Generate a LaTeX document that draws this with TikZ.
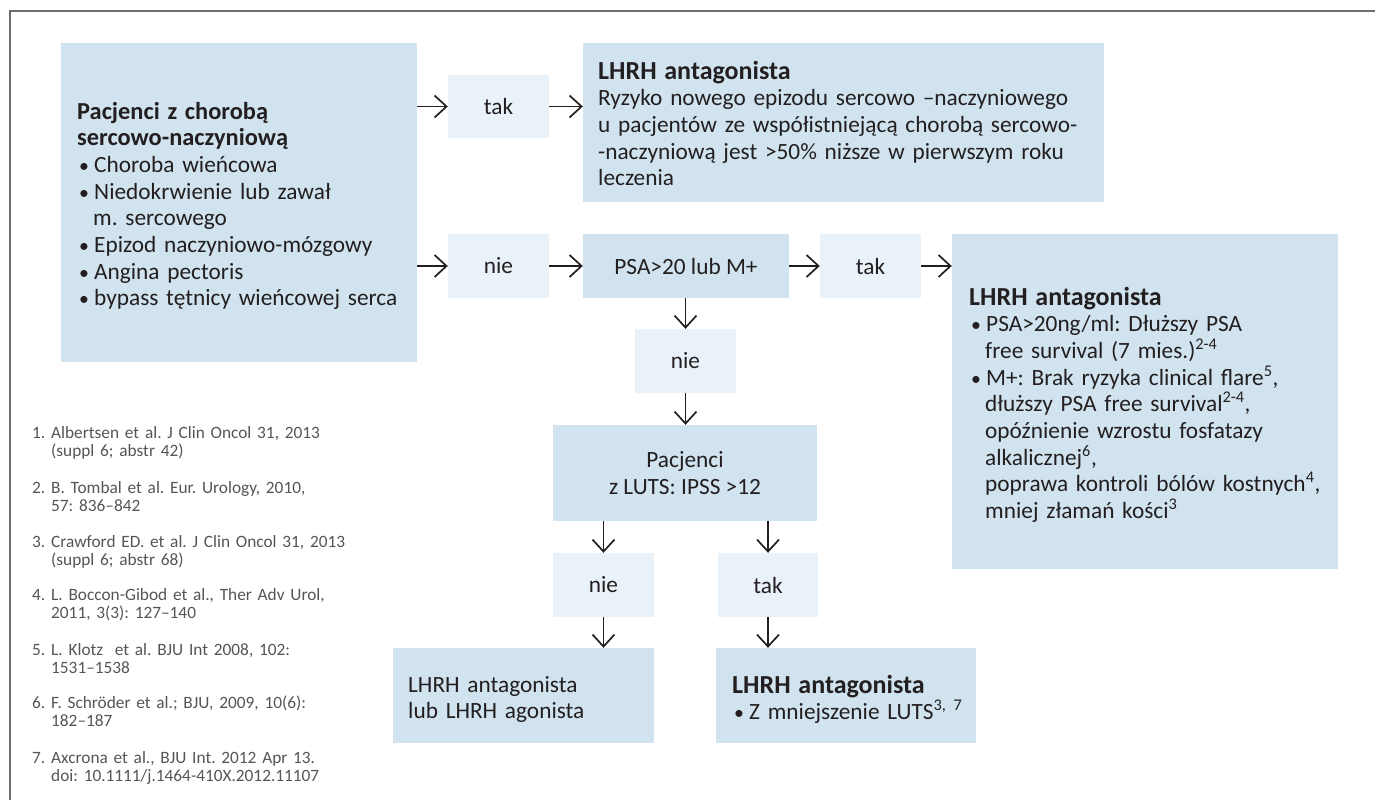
\documentclass[tikz,border=0pt]{standalone}
\usepackage{fontspec}
\setmainfont{Carlito}
\usetikzlibrary{arrows.meta}
\frenchspacing
\definecolor{darkfill}{RGB}{208,227,238}
\definecolor{lightfill}{RGB}{233,242,248}
\definecolor{ink}{RGB}{35,31,32}
\definecolor{refgray}{RGB}{85,85,85}
\definecolor{framegray}{RGB}{110,110,110}
\newcommand{\bul}{\hspace*{2pt}\makebox[15pt][l]{\scalebox{0.85}{•}}}
\newcommand{\ind}{\hspace*{16pt}}
\newcommand{\rnum}[1]{\makebox[19pt][l]{#1}}
\newcommand{\rind}{\hspace*{19pt}}
\newcommand{\bodyfont}{\fontsize{23.3}{26.7}\selectfont}
\newcommand{\ttl}[1]{{\fontsize{26}{26.7}\selectfont\bfseries #1}}
\newcommand{\ttlb}[1]{{\fontsize{24.4}{26.7}\selectfont\bfseries #1}}
\begin{document}
\begin{tikzpicture}[x=1pt,y=-1pt,
  darkbox/.style={fill=darkfill, draw=none, inner sep=0pt},
  lightbox/.style={fill=lightfill, draw=none, inner sep=0pt, text=ink, font=\bodyfont},
  bodytext/.style={inner sep=0pt, anchor=base west, align=left, text width=#1, text=ink, font=\bodyfont},
  reftext/.style={inner sep=0pt, anchor=base west, align=left, text width=340pt, text=refgray, font=\fontsize{17.3}{18.6}\selectfont},
  arr/.style={draw=ink, line width=1.7pt, -{Straight Barb[length=12pt,width=22pt,line width=1.7pt]}}
]
\useasboundingbox (0,0) rectangle (1375,800);
\draw[framegray, line width=1.4pt] (10,800) -- (10,11) -- (1375,11);

% boxes
\node[darkbox, minimum width=356pt, minimum height=319pt] (cvd) at (239,202.5) {};
\node[lightbox, minimum width=101pt, minimum height=63pt] (tak1) at (498.5,106.5) {tak};
\node[darkbox, minimum width=521pt, minimum height=159pt] (lhrh1) at (843.5,122.5) {};
\node[lightbox, minimum width=101pt, minimum height=64pt] (nie1) at (498.5,266) {nie};
\node[darkbox, text=ink, font=\bodyfont, minimum width=206pt, minimum height=64pt] (psa) at (686,266) {PSA>20 lub M+};
\node[lightbox, minimum width=101pt, minimum height=64pt] (tak2) at (870.5,266) {tak};
\node[darkbox, minimum width=386pt, minimum height=335pt] (lhrh2) at (1145,401.5) {};
\node[lightbox, minimum width=101pt, minimum height=64pt] (nie2) at (685.5,361) {nie};
\node[darkbox, text=ink, align=center, font=\bodyfont, minimum width=264pt, minimum height=96pt] (luts) at (685,473) {Pacjenci\\z LUTS: IPSS >12};
\node[lightbox, minimum width=101pt, minimum height=64pt] (nie3) at (603.5,585) {nie};
\node[lightbox, minimum width=100pt, minimum height=64pt] (tak3) at (768,585) {tak};
\node[darkbox, minimum width=261pt, minimum height=95pt] (lub) at (523.5,695.5) {};
\node[darkbox, minimum width=260pt, minimum height=95pt] (lhrh3) at (846,695.5) {};

% texts
\node[bodytext=340pt] (cvdtxt) at (77,119) {\ttlb{Pacjenci z chorobą}\\\ttlb{sercowo-naczyniową}\\
\bul Choroba wieńcowa\\\bul Niedokrwienie lub zawał\\\ind m. sercowego\\\bul Epizod naczyniowo-mózgowy\\\bul Angina pectoris\\\bul bypass tętnicy wieńcowej serca};
\node[bodytext=500pt] (lhrh1txt) at (598,79) {\ttl{LHRH antagonista}\\Ryzyko nowego epizodu sercowo –naczyniowego\\u pacjentów ze współistniejącą chorobą sercowo-\\-naczyniową jest >50\% niższe w pierwszym roku\\leczenia};
\node[bodytext=380pt] (lhrh2txt) at (969,305) {\ttl{LHRH antagonista}\\
\bul PSA>20ng/ml: Dłuższy PSA\\\ind free survival (7 mies.)\textsuperscript{2-4}\\
\bul M+: Brak ryzyka clinical flare\textsuperscript{5},\\\ind dłuższy PSA free survival\textsuperscript{2-4},\\\ind opóźnienie wzrostu fosfatazy\\\ind alkalicznej\textsuperscript{6},\\\ind poprawa kontroli bólów kostnych\textsuperscript{4},\\\ind mniej złamań kości\textsuperscript{3}};
\node[bodytext=250pt] (lubtxt) at (408,692) {LHRH antagonista\\lub LHRH agonista};
\node[bodytext=250pt] (lhrh3txt) at (732,693) {\ttl{LHRH antagonista}\\\bul Z mniejszenie LUTS\textsuperscript{3, 7}};

% references
\node[reftext] (ref1) at (32,438) {\rnum{1.}Albertsen et al. J Clin Oncol 31, 2013\\\rind (suppl 6; abstr 42)};
\node[reftext] (ref2) at (32,493) {\rnum{2.}B. Tombal et al. Eur. Urology, 2010,\\\rind 57: 836–842};
\node[reftext] (ref3) at (32,547) {\rnum{3.}Crawford ED. et al. J Clin Oncol 31, 2013\\\rind (suppl 6; abstr 68)};
\node[reftext] (ref4) at (32,600) {\rnum{4.}L. Boccon-Gibod et al., Ther Adv Urol,\\\rind 2011, 3(3): 127–140};
\node[reftext] (ref5) at (32,655) {\rnum{5.}L. Klotz \ et al. BJU Int 2008, 102:\\\rind 1531–1538};
\node[reftext] (ref6) at (32,708) {\rnum{6.}F. Schröder et al.; BJU, 2009, 10(6):\\\rind 182–187};
\node[reftext] (ref7) at (32,763) {\rnum{7.}Axcrona et al., BJU Int. 2012 Apr 13.\\\rind doi: 10.1111/j.1464-410X.2012.11107};

% arrows
\draw[arr] (cvd.east |- tak1.west) -- (tak1.west);
\draw[arr] (tak1.east) -- (lhrh1.west |- tak1.east);
\draw[arr] (cvd.east |- nie1.west) -- (nie1.west);
\draw[arr] (nie1.east) -- (psa.west);
\draw[arr] (psa.east) -- (tak2.west);
\draw[arr] (tak2.east) -- (lhrh2.west |- tak2.east);
\draw[arr] (nie2.north |- psa.south) -- (nie2.north);
\draw[arr] (nie2.south) -- (nie2.south |- luts.north);
\draw[arr] (nie3.north |- luts.south) -- (nie3.north);
\draw[arr] (tak3.north |- luts.south) -- (tak3.north);
\draw[arr] (nie3.south) -- (nie3.south |- lub.north);
\draw[arr] (tak3.south) -- (tak3.south |- lhrh3.north);
\end{tikzpicture}
\end{document}
